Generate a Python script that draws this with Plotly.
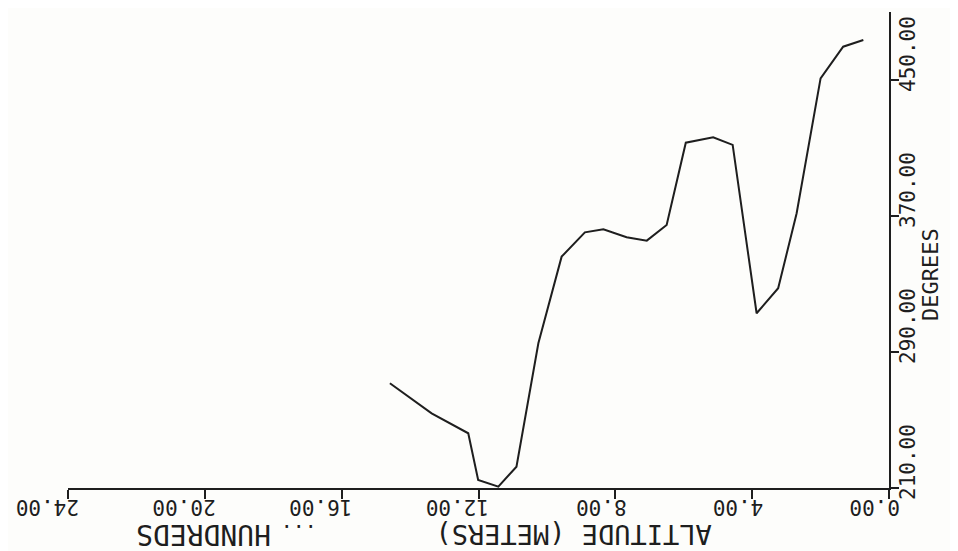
import plotly.graph_objects as go

# data (x = altitude in hundreds of meters, y = degrees)
altitude_hundreds = [14.59, 13.37, 12.30, 12.01, 11.42, 10.89, 10.25, 9.57, 8.89, 8.35, 7.67,
                     7.08, 6.50, 5.94, 5.14, 4.57, 3.87, 3.24, 2.70, 2.00, 1.34, 0.75]
degrees = [271.6, 253.9, 242.2, 214.7, 210.8, 222.5, 295.1, 346.1, 360.4, 362.2, 357.5,
           355.5, 364.7, 413.1, 416.3, 411.8, 312.8, 327.5, 371.6, 451.0, 469.6, 473.5]

x_ticks = [0, 4, 8, 12, 16, 20, 24]
x_tick_labels = ["0.00", "4.00", "8.00", "12.00", "16.00", "20.00", "24.00"]
y_ticks = [210, 290, 370, 450]
y_tick_labels = ["210.00", "290.00", "370.00", "450.00"]

FONT = "DejaVu Sans Mono"
INK = "#1e1e1e"

fig = go.Figure()
fig.add_trace(go.Scatter(x=altitude_hundreds, y=degrees, mode="lines",
                         line=dict(color=INK, width=2), showlegend=False))

annotations = []
for v, t in zip(x_ticks, x_tick_labels):
    annotations.append(dict(x=v, xref="x", y=0, yref="paper", text=t, textangle=180,
                            showarrow=False, xanchor="right", yanchor="middle",
                            xshift=13, yshift=-19, font=dict(family=FONT, size=21, color=INK)))
for v, t in zip(y_ticks, y_tick_labels):
    annotations.append(dict(x=1.0231, xref="paper", y=v, yref="y", text=t, textangle=-90,
                            showarrow=False, xanchor="center", yanchor="middle",
                            yshift=26, font=dict(family=FONT, size=21, color=INK)))

annotations += [
    dict(x=9.225, xref="x", y=0, yref="paper", text="ALTITUDE (METERS)", textangle=180,
         showarrow=False, xanchor="center", yanchor="middle", yshift=-47,
         font=dict(family=FONT, size=27, color=INK)),
    dict(x=17.25, xref="x", y=0, yref="paper", text="...", textangle=180,
         showarrow=False, xanchor="center", yanchor="middle", yshift=-44,
         font=dict(family=FONT, size=20, color=INK)),
    dict(x=20.04, xref="x", y=0, yref="paper", text="HUNDREDS", textangle=180,
         showarrow=False, xanchor="center", yanchor="middle", yshift=-47,
         font=dict(family=FONT, size=28, color=INK)),
    dict(x=1.0512, xref="paper", y=0.4475, yref="paper", text="DEGREES", textangle=-90,
         showarrow=False, xanchor="center", yanchor="middle",
         font=dict(family=FONT, size=22, color=INK)),
]

# the page body has an 8px margin, so the figure is 8px smaller and shifted
fig.update_layout(
    width=950, height=543,
    margin=dict(l=60, r=69, t=4, b=63),
    paper_bgcolor="#fdfdfb", plot_bgcolor="#fdfdfb",
    annotations=annotations,
    xaxis=dict(range=[24, 0], showgrid=False, zeroline=False, showline=True,
               linecolor=INK, linewidth=2, tickvals=x_ticks, ticks="outside",
               ticklen=9, tickwidth=2, tickcolor=INK, showticklabels=False),
    yaxis=dict(range=[210, 490], side="right", showgrid=False, zeroline=False,
               showline=True, linecolor=INK, linewidth=2, tickvals=y_ticks,
               ticks="outside", ticklen=8, tickwidth=2, tickcolor=INK,
               showticklabels=False),
)

fig.write_html("out.html")
